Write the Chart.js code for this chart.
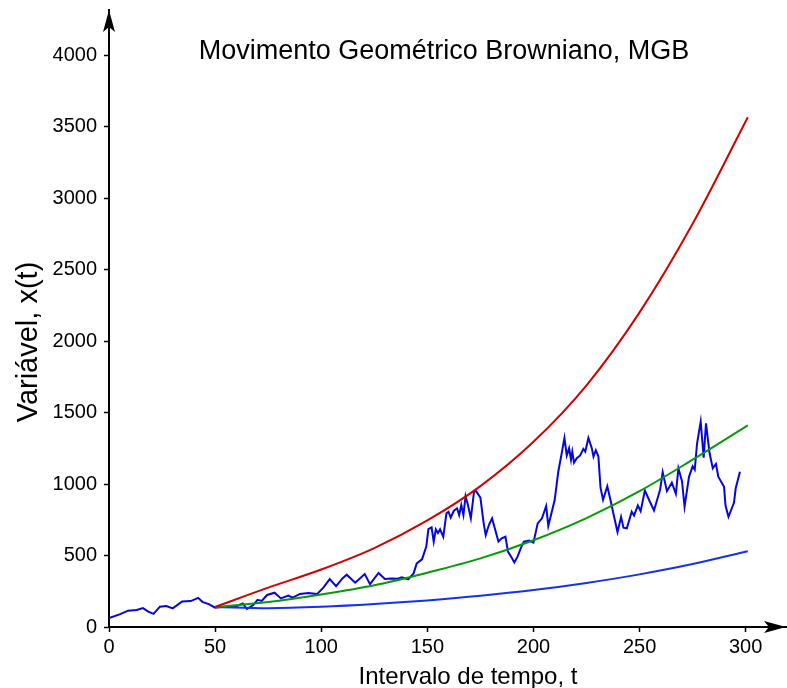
<!DOCTYPE html>
<html>
<head>
<meta charset="utf-8">
<title>Movimento Geométrico Browniano, MGB</title>
<script src="https://cdn.jsdelivr.net/npm/chart.js@4/dist/chart.umd.min.js"></script>
<style>
  html, body { margin: 0; padding: 0; background: #fff; }
  canvas { display: block; }
</style>
</head>
<body>
<canvas id="mgb" width="787" height="688"></canvas>
<script>
// Simulated path of the process x(t)
const walkT = [0, 5, 9, 13, 16, 18.5, 21, 24, 27, 30, 34.5, 38.5, 42, 44, 47, 50, 53, 56, 60, 63, 65, 68, 70, 72, 74.5, 78, 81, 84.5, 86.5, 90, 94, 98,
  101, 104, 107, 110, 112, 116, 120.5, 123, 127, 130, 133, 136, 138, 141, 143.5, 145, 147.5, 149.5, 150.5, 152, 153, 154, 155, 156, 157.5, 159, 160, 161, 162.5, 164, 165, 166, 167, 168, 169, 170.5, 172, 173, 175, 176.5, 177.5, 179, 180.5, 182, 183.5, 185, 186.8, 188, 189.5, 191, 192.5, 194, 195.5, 198, 200,
  202, 204, 206, 207, 210, 211.7, 213.3, 214.6, 215.7, 216.8, 217.7, 218.3, 219.1, 220.4, 222, 223.5, 224.4, 225.9, 227.5, 228.3, 229.4, 230.6, 231.6, 232.8, 234.8, 236.3, 238, 239.6, 241.3, 242.4, 244, 246.3, 247.4, 249.2, 250.5, 252.5, 254.5, 256.8, 259.7, 260.9, 262.9, 265.2, 267.1, 268.3, 270, 271.2, 273.3, 275, 276, 277.1, 278.8, 280.2, 281.3, 283, 284.5, 286, 287.1, 289.8, 290.5, 291.9, 294.5, 295.3, 297.3];
const walkV = [62, 88, 114, 119, 132, 108, 92, 142, 146, 130, 178, 181, 204, 176, 160, 135, 140, 142, 145, 165, 126, 154, 190, 182, 224, 240, 200, 220, 205, 231, 238, 230,
  275, 335, 285, 340, 366, 310, 370, 300, 378, 336, 340, 338, 347, 333, 375, 445, 473, 562, 685, 697, 597, 683, 657, 683, 631, 795, 806, 765, 813, 830, 783, 853, 783, 915, 862, 760, 946, 950, 905, 730, 643, 713, 760, 678, 597, 620, 631, 527, 492, 452, 492, 550, 597, 605, 590,
  725, 760, 846, 706, 888, 1086, 1214, 1322, 1200, 1250, 1170, 1226, 1149, 1180, 1200, 1245, 1226, 1322, 1250, 1192, 1236, 1193, 975, 890, 984, 888, 771, 664, 770, 695, 690, 806, 780, 850, 810, 955, 888, 815, 962, 1082, 950, 1009, 932, 1110, 1020, 841, 1050, 1124, 1100, 1285, 1436, 1185, 1424, 1215, 1110, 1140, 1051, 980, 850, 771, 870, 970, 1086];

// Reference curves starting at t = 50
const curveT = [50, 75, 100, 125, 150, 175, 200, 225, 250, 275, 301];
const upperV = [140, 275, 402, 552, 745, 985, 1295, 1690, 2200, 2820, 3565];
const meanV  = [140, 175, 228, 292, 380, 480, 607, 762, 950, 1170, 1410];
const lowerV = [140, 132, 141, 160, 186, 218, 258, 308, 368, 440, 530];

const xTicks = [0, 50, 100, 150, 200, 250, 300];
const yTicks = [0, 500, 1000, 1500, 2000, 2500, 3000, 3500, 4000];

const chartTitle = 'Movimento Geométrico Browniano, MGB';
const xTitle = 'Intervalo de tempo, t';
const yTitle = 'Variável, x(t)';

const pts = (ts, vs) => ts.map((t, i) => ({ x: t, y: vs[i] }));

const FONT = '"Liberation Sans", Arial, Helvetica, sans-serif';

// Arrowheads on the axes, the title inside the plot and the axis titles
const decorations = {
  id: 'decorations',
  afterDraw(chart) {
    const { ctx, chartArea: a } = chart;
    ctx.save();
    ctx.fillStyle = '#000';
    // y axis arrow (pointing up)
    let x = a.left, y = a.top;
    ctx.beginPath();
    ctx.moveTo(x, y);
    ctx.lineTo(x + 6, y + 22);
    ctx.lineTo(x, y + 17);
    ctx.lineTo(x - 6, y + 22);
    ctx.closePath();
    ctx.fill();
    // x axis arrow (pointing right)
    x = a.right; y = a.bottom;
    ctx.beginPath();
    ctx.moveTo(x, y);
    ctx.lineTo(x - 22, y - 6);
    ctx.lineTo(x - 17, y);
    ctx.lineTo(x - 22, y + 6);
    ctx.closePath();
    ctx.fill();
    // chart title
    ctx.textAlign = 'center';
    ctx.textBaseline = 'alphabetic';
    ctx.font = '27px ' + FONT;
    ctx.fillText(chartTitle, 444, 59);
    // x axis title
    ctx.font = '24px ' + FONT;
    ctx.fillText(xTitle, 468, 684);
    // y axis title
    ctx.translate(37, 342);
    ctx.rotate(-Math.PI / 2);
    ctx.font = '29px ' + FONT;
    ctx.fillText(yTitle, 0, 0);
    ctx.restore();
  }
};

const plainNumber = (v) => String(v);

new Chart(document.getElementById('mgb'), {
  type: 'line',
  data: {
    datasets: [
      { data: pts(curveT, upperV), borderColor: '#d40000', borderWidth: 2, pointRadius: 0, tension: 0.4, cubicInterpolationMode: 'monotone', fill: false },
      { data: pts(curveT, meanV),  borderColor: '#079907', borderWidth: 2, pointRadius: 0, tension: 0.4, cubicInterpolationMode: 'monotone', fill: false },
      { data: pts(curveT, lowerV), borderColor: '#1430f0', borderWidth: 2, pointRadius: 0, tension: 0.4, cubicInterpolationMode: 'monotone', fill: false },
      { data: pts(walkT, walkV),   borderColor: '#0505e0', borderWidth: 2, pointRadius: 0, tension: 0, fill: false }
    ]
  },
  options: {
    responsive: false,
    animation: false,
    events: [],
    layout: { padding: { top: 10, right: 1, bottom: 0, left: 0 } },
    plugins: { legend: { display: false }, tooltip: { enabled: false }, title: { display: false } },
    scales: {
      x: {
        type: 'linear',
        min: 0,
        max: 319,
        afterBuildTicks: (s) => { s.ticks = xTicks.map(v => ({ value: v })); },
        afterFit: (s) => { s.height = 61; s.paddingLeft = 0; s.paddingRight = 0; },
        grid: { drawOnChartArea: false, drawTicks: true, tickLength: 5, tickWidth: 1.5, tickColor: '#000' },
        border: { display: true, color: '#000', width: 2 },
        ticks: { color: '#000', font: { family: FONT, size: 20 }, padding: 3, maxRotation: 0, callback: plainNumber },
        title: { display: false }
      },
      y: {
        type: 'linear',
        min: 0,
        max: 4315,
        afterBuildTicks: (s) => { s.ticks = yTicks.map(v => ({ value: v })); },
        afterFit: (s) => { s.width = 109; s.paddingTop = 0; s.paddingBottom = 0; },
        grid: { drawOnChartArea: false, drawTicks: true, tickLength: 5, tickWidth: 1.5, tickColor: '#000' },
        border: { display: true, color: '#000', width: 2 },
        ticks: { color: '#000', font: { family: FONT, size: 20 }, padding: 7, callback: plainNumber },
        title: { display: false }
      }
    }
  },
  plugins: [decorations]
});
</script>
</body>
</html>
